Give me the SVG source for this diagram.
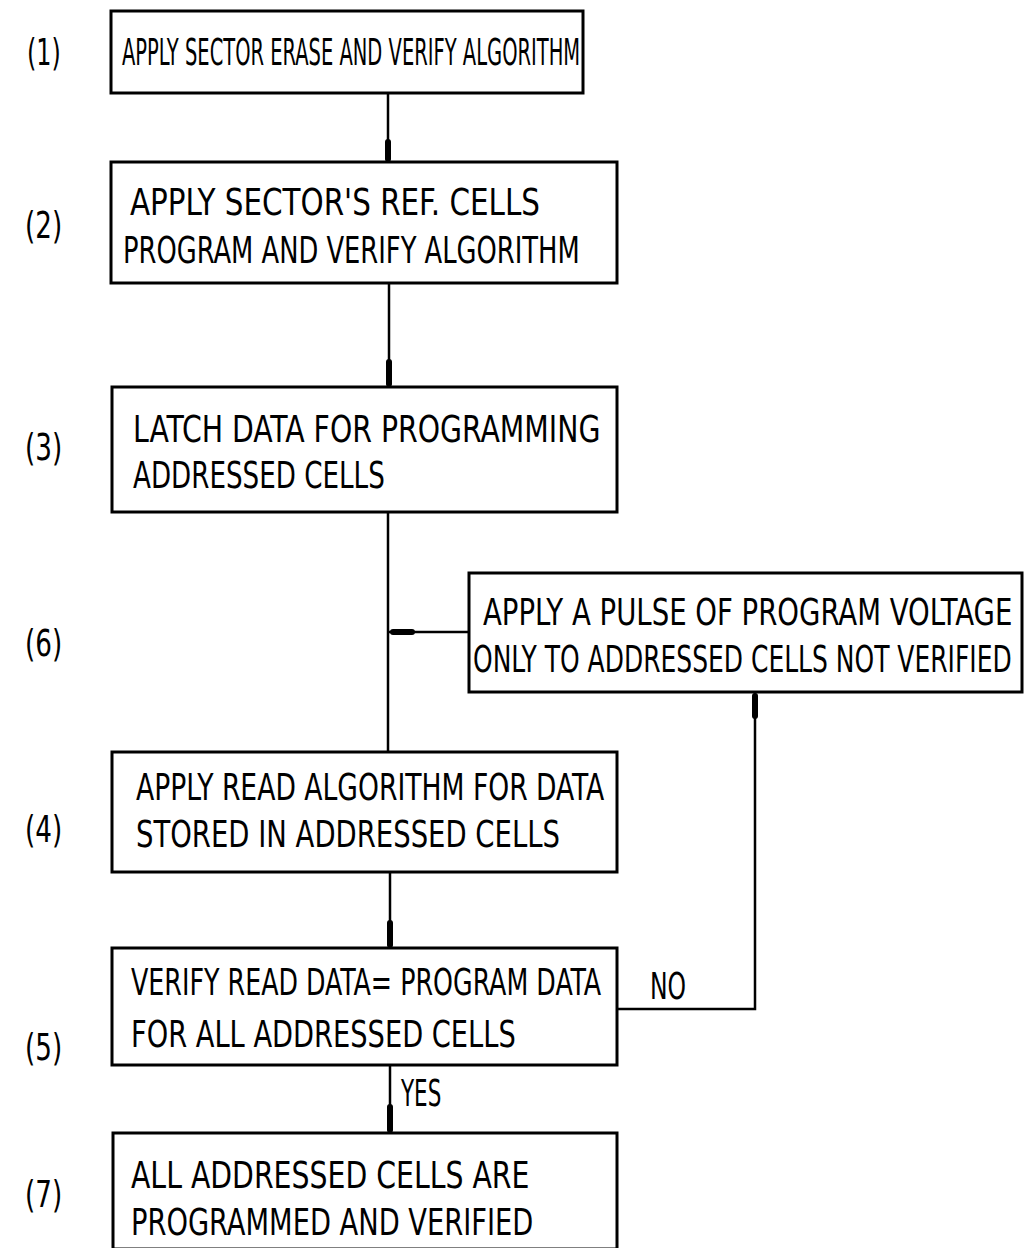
<svg xmlns="http://www.w3.org/2000/svg" width="1025" height="1248" viewBox="0 0 1025 1248">
<style>
.box{fill:#fff;stroke:#000;stroke-width:3}
.t{font-family:"DejaVu Sans Condensed","Liberation Sans",sans-serif;font-size:38px;fill:#000}
.n{font-family:"DejaVu Sans Condensed","Liberation Sans",sans-serif;font-size:37px;fill:#000}
.ln{fill:none;stroke:#000;stroke-width:2.5}
.hd{fill:none;stroke:#000;stroke-width:6;stroke-linecap:round}
</style>
<rect width="1025" height="1248" fill="#fff"/>
<g id="connectors">
<line class="ln" x1="388" y1="93" x2="388" y2="162"/>
<line class="hd" x1="388" y1="142" x2="388" y2="159"/>
<line class="ln" x1="389" y1="283" x2="389" y2="387"/>
<line class="hd" x1="389" y1="362" x2="389" y2="384"/>
<line class="ln" x1="388" y1="512" x2="388" y2="752"/>
<line class="ln" x1="469" y1="632" x2="388" y2="632"/>
<line class="hd" x1="393" y1="632" x2="412" y2="632"/>
<line class="ln" x1="390" y1="872" x2="390" y2="948"/>
<line class="hd" x1="390" y1="923" x2="390" y2="945"/>
<polyline class="ln" points="617,1009 755,1009 755,692"/>
<line class="hd" x1="755" y1="696" x2="755" y2="716"/>
<line class="ln" x1="390" y1="1065" x2="390" y2="1133"/>
<line class="hd" x1="390" y1="1107" x2="390" y2="1130"/>
<text class="t" font-size="30" transform="translate(650,999) scale(0.88,1)" textLength="41" lengthAdjust="spacingAndGlyphs">NO</text>
<text class="t" font-size="30" transform="translate(401,1106) scale(0.79,1)" textLength="51" lengthAdjust="spacingAndGlyphs">YES</text>
</g>
<g id="labels">
<text class="n" transform="translate(27,65) scale(0.72,1)" textLength="47" lengthAdjust="spacingAndGlyphs">(1)</text>
<text class="n" transform="translate(25,238) scale(0.79,1)" textLength="47" lengthAdjust="spacingAndGlyphs">(2)</text>
<text class="n" transform="translate(25,460) scale(0.79,1)" textLength="47" lengthAdjust="spacingAndGlyphs">(3)</text>
<text class="n" transform="translate(25,656) scale(0.79,1)" textLength="47" lengthAdjust="spacingAndGlyphs">(6)</text>
<text class="n" transform="translate(25,842) scale(0.79,1)" textLength="47" lengthAdjust="spacingAndGlyphs">(4)</text>
<text class="n" transform="translate(25,1060) scale(0.79,1)" textLength="47" lengthAdjust="spacingAndGlyphs">(5)</text>
<text class="n" transform="translate(25,1207) scale(0.79,1)" textLength="47" lengthAdjust="spacingAndGlyphs">(7)</text>
</g>
<g id="n1">
<rect class="box" x="111" y="11" width="472" height="82"/>
<text class="t" font-size="35" transform="translate(122,65) scale(0.62,1)" textLength="739" lengthAdjust="spacingAndGlyphs">APPLY SECTOR ERASE AND VERIFY ALGORITHM</text>
</g>
<g id="n2">
<rect class="box" x="111" y="162" width="506" height="121"/>
<text class="t" transform="translate(130,215) scale(0.84,1)" textLength="488" lengthAdjust="spacingAndGlyphs">APPLY SECTOR'S REF. CELLS</text>
<text class="t" transform="translate(123,263) scale(0.75,1)" textLength="609" lengthAdjust="spacingAndGlyphs">PROGRAM AND VERIFY ALGORITHM</text>
</g>
<g id="n3">
<rect class="box" x="112" y="387" width="505" height="125"/>
<text class="t" transform="translate(133,442) scale(0.81,1)" textLength="577" lengthAdjust="spacingAndGlyphs">LATCH DATA FOR PROGRAMMING</text>
<text class="t" transform="translate(133,488) scale(0.77,1)" textLength="327" lengthAdjust="spacingAndGlyphs">ADDRESSED CELLS</text>
</g>
<g id="n6">
<rect class="box" x="469" y="573" width="553" height="119"/>
<text class="t" transform="translate(483,625) scale(0.79,1)" textLength="670" lengthAdjust="spacingAndGlyphs">APPLY A PULSE OF PROGRAM VOLTAGE</text>
<text class="t" transform="translate(473,672) scale(0.725,1)" textLength="743" lengthAdjust="spacingAndGlyphs">ONLY TO ADDRESSED CELLS NOT VERIFIED</text>
</g>
<g id="n4">
<rect class="box" x="112" y="752" width="505" height="120"/>
<text class="t" transform="translate(136,800) scale(0.76,1)" textLength="616" lengthAdjust="spacingAndGlyphs">APPLY READ ALGORITHM FOR DATA</text>
<text class="t" transform="translate(136,847) scale(0.8,1)" textLength="530" lengthAdjust="spacingAndGlyphs">STORED IN ADDRESSED CELLS</text>
</g>
<g id="n5">
<rect class="box" x="112" y="948" width="505" height="117"/>
<text class="t" transform="translate(131,995) scale(0.72,1)" textLength="653" lengthAdjust="spacingAndGlyphs">VERIFY READ DATA= PROGRAM DATA</text>
<text class="t" transform="translate(131,1047) scale(0.8,1)" textLength="481" lengthAdjust="spacingAndGlyphs">FOR ALL ADDRESSED CELLS</text>
</g>
<g id="n7">
<rect class="box" x="113" y="1133" width="504" height="116"/>
<text class="t" transform="translate(131,1188) scale(0.83,1)" textLength="480" lengthAdjust="spacingAndGlyphs">ALL ADDRESSED CELLS ARE</text>
<text class="t" transform="translate(131,1235) scale(0.84,1)" textLength="479" lengthAdjust="spacingAndGlyphs">PROGRAMMED AND VERIFIED</text>
</g>
</svg>
